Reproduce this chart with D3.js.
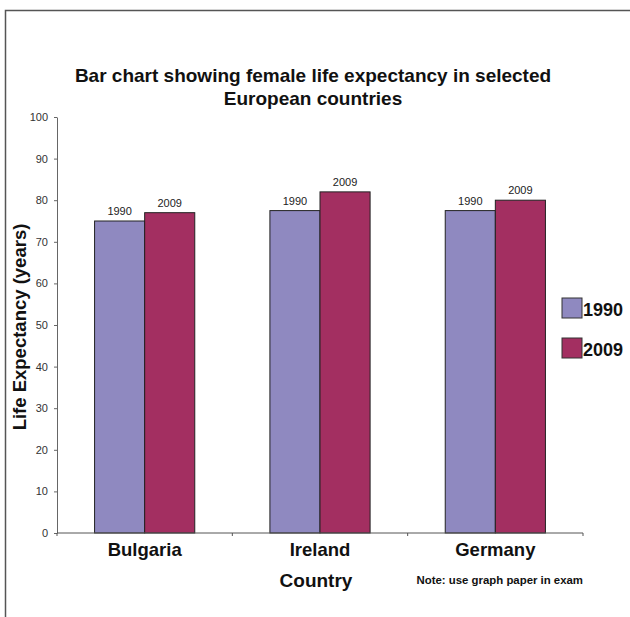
<!DOCTYPE html>
<html>
<head>
<meta charset="utf-8">
<script src="https://cdn.jsdelivr.net/npm/d3@7"></script>
<style>
  body { margin: 0; background: #fff; }
  svg { display: block; font-family: "Liberation Sans", Arial, sans-serif; }
</style>
</head>
<body>
<div class="chart"></div>
<script>
var countries = ['Bulgaria', 'Ireland', 'Germany'];
var years = ['1990', '2009'];
var life1990 = [75, 77.5, 77.5];
var life2009 = [77, 82, 80];
var yTicks = [0, 10, 20, 30, 40, 50, 60, 70, 80, 90, 100];
var colors = ['#8f89c0', '#a32f61'];

var W = 630, H = 617;
var plotLeft = 57, plotRight = 583, plotTop = 117, plotBottom = 533;

var data = countries.map(function(c, i) {
  return { country: c, values: [life1990[i], life2009[i]] };
});

var svg = d3.select('.chart')
    .append('svg')
    .attr('width', W)
    .attr('height', H);

svg.append('rect').attr('width', W).attr('height', H).attr('fill', '#fff');

// frame round the picture
svg.append('path')
    .attr('d', 'M5.5,' + H + 'V10.5H' + W)
    .attr('fill', 'none')
    .attr('stroke', '#555')
    .attr('stroke-width', 1.5);

var x0 = d3.scaleBand()
    .domain(countries)
    .range([plotLeft, plotRight])
    .padding(0);

var x1 = d3.scaleBand()
    .domain(years)
    .range([0, x0.bandwidth()])
    .paddingInner(0)
    .paddingOuter(0.75);

var y = d3.scaleLinear()
    .domain([0, 100])
    .range([plotBottom, plotTop]);

// title
var title = svg.append('text')
    .attr('text-anchor', 'middle')
    .attr('font-weight', 'bold')
    .attr('font-size', 19)
    .attr('fill', '#111');
title.append('tspan').attr('x', 313).attr('y', 82).text('Bar chart showing female life expectancy in selected');
title.append('tspan').attr('x', 313).attr('y', 105).text('European countries');

// y axis
var yAxis = svg.append('g')
    .attr('transform', 'translate(' + plotLeft + ',0)')
    .call(d3.axisLeft(y).tickValues(yTicks).tickSize(3).tickSizeOuter(0).tickPadding(6));
yAxis.select('.domain').attr('stroke', '#666');
yAxis.selectAll('.tick line').attr('stroke', '#666');
yAxis.selectAll('.tick text')
    .attr('font-size', 11)
    .attr('font-family', '"Liberation Sans", Arial, sans-serif')
    .attr('fill', '#333');

// bars
var groups = svg.selectAll('.country')
    .data(data)
  .enter().append('g')
    .attr('class', 'country')
    .attr('transform', function(d) { return 'translate(' + x0(d.country) + ',0)'; });

groups.selectAll('rect')
    .data(function(d) { return d.values.map(function(v, j) { return { year: years[j], value: v, i: j }; }); })
  .enter().append('rect')
    .attr('x', function(d) { return x1(d.year); })
    .attr('y', function(d) { return y(d.value); })
    .attr('width', x1.bandwidth())
    .attr('height', function(d) { return plotBottom - y(d.value); })
    .attr('fill', function(d) { return colors[d.i]; })
    .attr('stroke', '#222')
    .attr('stroke-width', 1);

groups.selectAll('.lbl')
    .data(function(d) { return d.values.map(function(v, j) { return { year: years[j], value: v }; }); })
  .enter().append('text')
    .attr('class', 'lbl')
    .attr('x', function(d) { return x1(d.year) + x1.bandwidth() / 2; })
    .attr('y', function(d) { return y(d.value) - 6; })
    .attr('text-anchor', 'middle')
    .attr('font-size', 11)
    .attr('fill', '#222')
    .text(function(d) { return d.year; });

// x axis
var xAxis = svg.append('g')
    .attr('transform', 'translate(0,' + plotBottom + ')')
    .call(d3.axisBottom(x0).tickSize(0).tickPadding(10));
xAxis.select('.domain').remove();
xAxis.selectAll('.tick text')
    .attr('font-size', 18.5)
    .attr('font-weight', 'bold')
    .attr('font-family', '"Liberation Sans", Arial, sans-serif')
    .attr('fill', '#111');

xAxis.append('line')
    .attr('x1', plotLeft).attr('x2', plotRight)
    .attr('stroke', '#555');
xAxis.selectAll('.sep')
    .data(d3.range(countries.length + 1))
  .enter().append('line')
    .attr('class', 'sep')
    .attr('x1', function(i) { return plotLeft + i * x0.step(); })
    .attr('x2', function(i) { return plotLeft + i * x0.step(); })
    .attr('y2', 3)
    .attr('stroke', '#555');

svg.append('text')
    .attr('x', x0('Ireland') + x0.bandwidth() / 2 - 4)
    .attr('y', 587)
    .attr('text-anchor', 'middle')
    .attr('font-size', 19)
    .attr('font-weight', 'bold')
    .attr('fill', '#111')
    .text('Country');

svg.append('text')
    .attr('x', plotRight)
    .attr('y', 584)
    .attr('text-anchor', 'end')
    .attr('font-size', 11.4)
    .attr('font-weight', 'bold')
    .attr('fill', '#111')
    .text('Note: use graph paper in exam');

// y label
svg.append('text')
    .attr('transform', 'translate(26,' + ((plotTop + plotBottom) / 2 + 2) + ') rotate(-90)')
    .attr('text-anchor', 'middle')
    .attr('font-size', 18.5)
    .attr('font-weight', 'bold')
    .attr('fill', '#111')
    .text('Life Expectancy (years)');

// legend
var legend = svg.selectAll('.legend')
    .data(years)
  .enter().append('g')
    .attr('class', 'legend')
    .attr('transform', function(d, i) { return 'translate(562,' + (298 + i * 40) + ')'; });
legend.append('rect')
    .attr('width', 20).attr('height', 20)
    .attr('fill', function(d, i) { return colors[i]; })
    .attr('stroke', '#333');
legend.append('text')
    .attr('x', 21).attr('y', 18)
    .attr('font-size', 18)
    .attr('font-weight', 'bold')
    .attr('fill', '#111')
    .text(function(d) { return d; });
</script>
</body>
</html>
